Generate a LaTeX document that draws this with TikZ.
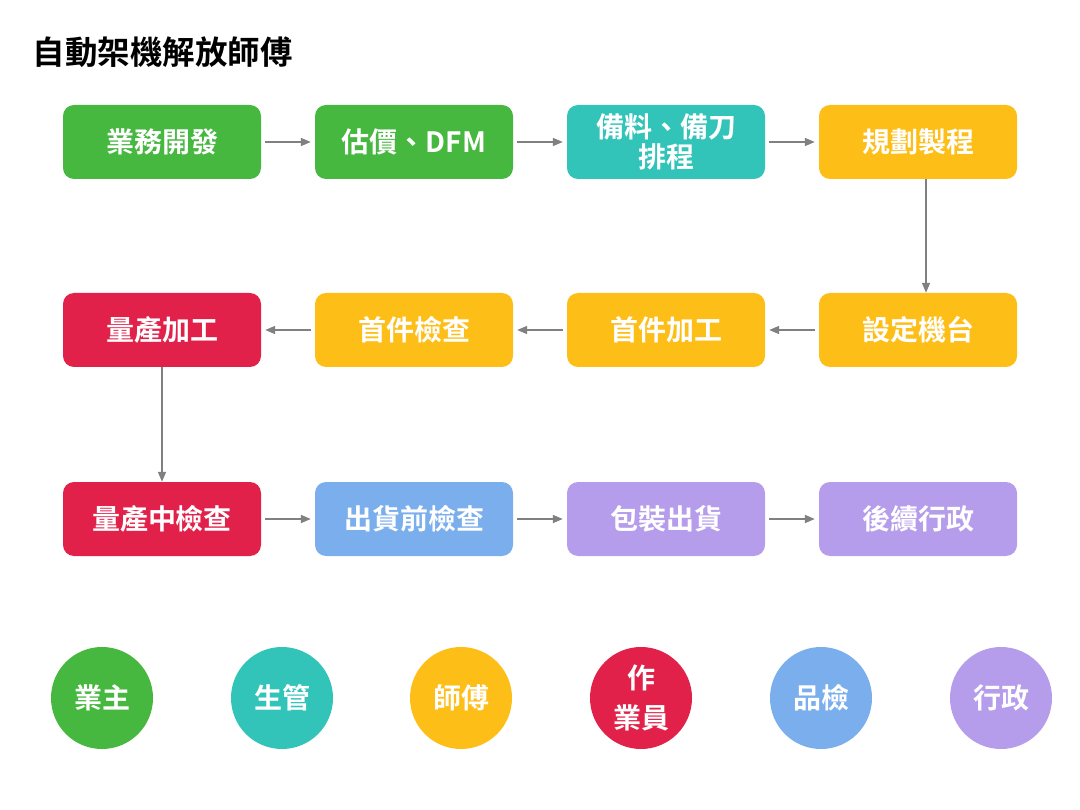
\documentclass[tikz,border=0pt]{standalone}
\usepackage{fontspec}
\newfontfamily\cjk{Noto Sans CJK TC}[BoldFont={Noto Sans CJK TC Bold}]
\usetikzlibrary{arrows.meta}
\definecolor{sgreen}{HTML}{46B73F}
\definecolor{steal}{HTML}{33C4B9}
\definecolor{syellow}{HTML}{FEBE18}
\definecolor{sred}{HTML}{E2214A}
\definecolor{sblue}{HTML}{7BAEEC}
\definecolor{spurple}{HTML}{B59DEB}
\definecolor{sgray}{HTML}{808080}
\tikzset{
	stage/.style={rounded corners=11pt, minimum width=198pt, minimum height=74pt, inner sep=0pt, text=white, align=center, font=\cjk\bfseries\fontsize{28}{30}\selectfont},
	role/.style={circle, minimum size=102pt, inner sep=0pt, text=white, align=center, font=\cjk\bfseries\fontsize{28}{40}\selectfont},
	flow/.style={draw=sgray, line width=1.6pt, -{Triangle[length=10pt,width=8pt]}},
	gapflow/.style={flow, shorten <=4pt, shorten >=4pt}
}
\begin{document}
\begin{tikzpicture}[x=1pt, y=-1pt]
			%%%%% START %%%%%
			\useasboundingbox (0, 0) rectangle (1080, 810);
			
			\node[anchor=west, font=\cjk\bfseries\fontsize{32.5}{34}\selectfont] (title) at (29, 52) {自動架機解放師傅};
			
			% first row
			\node[stage, fill=sgreen] (biz) at (162, 142) {業務開發};
			\node[stage, fill=sgreen] (quote) at (414, 142) {估價、DFM};
			\node[stage, fill=steal] (prep) at (666, 142) {備料、備刀\\排程};
			\node[stage, fill=syellow] (plan) at (918, 142) {規劃製程};
			
			% second row
			\node[stage, fill=syellow] (setup) at (918, 330) {設定機台};
			\node[stage, fill=syellow] (first) at (666, 330) {首件加工};
			\node[stage, fill=syellow] (check) at (414, 330) {首件檢查};
			\node[stage, fill=sred] (mass) at (162, 330) {量產加工};
			
			% third row
			\node[stage, fill=sred] (inline) at (162, 519) {量產中檢查};
			\node[stage, fill=sblue] (final) at (414, 519) {出貨前檢查};
			\node[stage, fill=spurple] (pack) at (666, 519) {包裝出貨};
			\node[stage, fill=spurple] (admin) at (918, 519) {後續行政};
			
			\draw[gapflow] (biz) -- (quote);
			\draw[gapflow] (quote) -- (prep);
			\draw[gapflow] (prep) -- (plan);
			\draw[flow] ([xshift=8pt]plan.south) -- ([xshift=8pt]setup.north);
			\draw[gapflow] (setup) -- (first);
			\draw[gapflow] (first) -- (check);
			\draw[gapflow] (check) -- (mass);
			\draw[flow] (mass) -- (inline);
			\draw[gapflow] (inline) -- (final);
			\draw[gapflow] (final) -- (pack);
			\draw[gapflow] (pack) -- (admin);
			
			% roles
			\node[role, fill=sgreen] (owner) at (102, 698) {業主};
			\node[role, fill=steal] (pmc) at (282, 698) {生管};
			\node[role, fill=syellow] (master) at (461, 698) {師傅};
			\node[role, fill=sred] (operator) at (641, 698) {作\\業員};
			\node[role, fill=sblue] (qc) at (821, 698) {品檢};
			\node[role, fill=spurple] (office) at (1001, 698) {行政};
			%%%%% END %%%%%
\end{tikzpicture}
\end{document}
